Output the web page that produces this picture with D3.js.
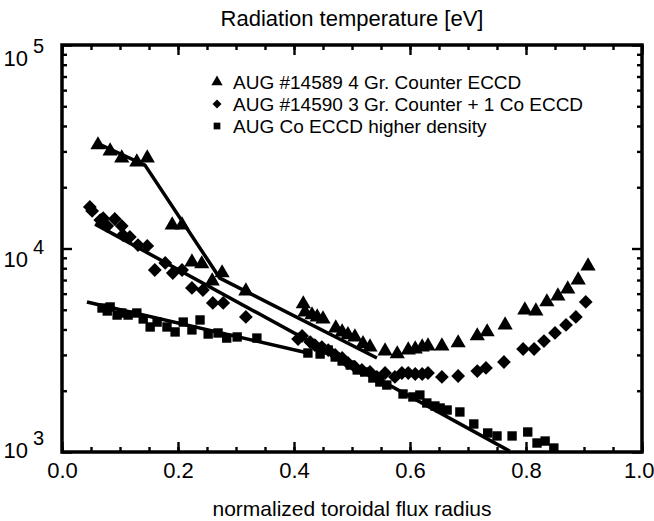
<!DOCTYPE html>
<html>
<head>
<meta charset="utf-8">
<script src="https://cdn.jsdelivr.net/npm/d3@7"></script>
<style>
  body { margin: 0; background: #fff; }
  svg { font-family: "Liberation Sans", Arial, sans-serif; }
</style>
</head>
<body>
<svg id="chart" width="654" height="521"></svg>
<script>
// series: [x, T]
const triangles = [
  [0.062, 31900], [0.083, 29800], [0.103, 27500], [0.129, 26300], [0.147, 27500],
  [0.190, 12900], [0.207, 12900], [0.224, 8480], [0.241, 8300], [0.259, 6840],
  [0.276, 7500], [0.317, 6110], [0.416, 5280], [0.419, 4820], [0.431, 4660],
  [0.440, 4550], [0.450, 4450], [0.472, 4020], [0.483, 3840], [0.493, 3720],
  [0.505, 3630], [0.519, 3360], [0.531, 3240], [0.557, 3100], [0.578, 2998],
  [0.597, 3135], [0.609, 3170], [0.621, 3240], [0.631, 3280], [0.655, 3280],
  [0.683, 3395], [0.716, 3675], [0.733, 3845], [0.764, 4160], [0.798, 4930],
  [0.817, 4875], [0.836, 5400], [0.855, 5775], [0.872, 6250], [0.890, 6920],
  [0.907, 8110]
];
const diamonds = [
  [0.048, 16000], [0.052, 15300], [0.066, 13800], [0.071, 14100], [0.078, 12900],
  [0.091, 13960], [0.103, 12900], [0.105, 11650], [0.117, 11400], [0.131, 10400],
  [0.147, 10300], [0.160, 7840], [0.178, 8490], [0.191, 7580], [0.207, 7840],
  [0.224, 6400], [0.243, 6250], [0.260, 5400], [0.278, 5400], [0.317, 4610],
  [0.407, 3590], [0.414, 3720], [0.428, 3470], [0.436, 3355], [0.448, 3280],
  [0.459, 3170], [0.471, 2998], [0.483, 2897], [0.493, 2737], [0.505, 2617],
  [0.517, 2530], [0.531, 2472], [0.543, 2337], [0.557, 2445], [0.574, 2337],
  [0.586, 2445], [0.597, 2445], [0.609, 2417], [0.621, 2417], [0.631, 2445],
  [0.655, 2337], [0.683, 2363], [0.716, 2500], [0.731, 2588], [0.762, 2769],
  [0.795, 3207], [0.814, 3207], [0.831, 3510], [0.850, 3845], [0.869, 4210],
  [0.886, 4610], [0.903, 5460]
];
const squares = [
  [0.069, 5100], [0.078, 4930], [0.083, 5160], [0.095, 4710], [0.103, 4820],
  [0.114, 4710], [0.129, 4820], [0.140, 4505], [0.152, 4115], [0.164, 4350],
  [0.181, 4115], [0.195, 3890], [0.209, 4350], [0.224, 3980], [0.238, 4455],
  [0.252, 3800], [0.269, 3845], [0.284, 3630], [0.302, 3675], [0.336, 3630],
  [0.424, 3065], [0.445, 3030], [0.459, 3170], [0.471, 2930], [0.483, 2800],
  [0.497, 2677], [0.509, 2530], [0.522, 2472], [0.536, 2310], [0.548, 2208],
  [0.560, 2134], [0.588, 1928], [0.605, 1864], [0.617, 1905], [0.629, 1741],
  [0.643, 1683], [0.652, 1645], [0.664, 1608], [0.686, 1573], [0.710, 1373],
  [0.734, 1240], [0.750, 1199], [0.776, 1199], [0.803, 1254], [0.819, 1107],
  [0.833, 1132], [0.848, 1046]
];

// fitted lines
const triangleFit = [[0.060, 33000], [0.143, 25700], [0.272, 7160], [0.543, 2897]];
const diamondFit = [[0.057, 13180], [0.772, 1010]];
const squareFit = [[0.043, 5458], [0.424, 3066]];

const legendLabels = [
  'AUG #14589 4 Gr. Counter ECCD',
  'AUG #14590 3 Gr. Counter + 1 Co ECCD',
  'AUG Co ECCD higher density'
];
const xMajor = [0, 0.2, 0.4, 0.6, 0.8, 1.0];
const xMinor = d3.range(0, 1.0001, 0.05);
const yExps = [3, 4, 5];

const svg = d3.select('#chart');
const margin = {left: 62, right: 12, top: 45, bottom: 69};
const W = 654, H = 521;

const x = d3.scaleLinear().domain([0, 1]).range([margin.left, W - margin.right]);
const y = d3.scaleLog().domain([1000, 100000]).range([H - margin.bottom, margin.top]);

const yMinor = [];
[1000, 10000].forEach(b => { for (let k = 2; k <= 9; k++) yMinor.push(b * k); });

// ticks (inward, on all four sides)
const axes = svg.append('g');
axes.append('g').attr('transform', `translate(0,${y.range()[0]})`)
  .call(d3.axisBottom(x).tickValues(xMinor).tickSize(-5).tickFormat(''));
axes.append('g').attr('transform', `translate(0,${y.range()[0]})`)
  .call(d3.axisBottom(x).tickValues(xMajor).tickSize(-10).tickPadding(10).tickFormat(d3.format('.1f')));
axes.append('g').attr('transform', `translate(0,${y.range()[1]})`)
  .call(d3.axisTop(x).tickValues(xMinor).tickSize(-5).tickFormat(''));
axes.append('g').attr('transform', `translate(0,${y.range()[1]})`)
  .call(d3.axisTop(x).tickValues(xMajor).tickSize(-10).tickFormat(''));
axes.append('g').attr('transform', `translate(${x.range()[0]},0)`)
  .call(d3.axisLeft(y).tickValues(yMinor).tickSize(-5).tickFormat(''));
axes.append('g').attr('transform', `translate(${x.range()[0]},0)`)
  .call(d3.axisLeft(y).tickValues(yExps.map(e => Math.pow(10, e))).tickSize(-10).tickFormat(''));
axes.append('g').attr('transform', `translate(${x.range()[1]},0)`)
  .call(d3.axisRight(y).tickValues(yMinor).tickSize(-5).tickFormat(''));
axes.append('g').attr('transform', `translate(${x.range()[1]},0)`)
  .call(d3.axisRight(y).tickValues(yExps.map(e => Math.pow(10, e))).tickSize(-10).tickFormat(''));

axes.selectAll('.domain').remove();
axes.selectAll('.tick line').attr('stroke', '#000').attr('stroke-width', 2.4);
axes.selectAll('.tick text').attr('fill', '#000').style('font-size', '22px')
  .style('font-family', '"Liberation Sans", Arial, sans-serif');
// last label sits on the window edge like the original
axes.selectAll('.tick text').filter(d => d === 1.0).attr('text-anchor', 'end').attr('dx', 12);

// frame
svg.append('rect')
  .attr('x', x.range()[0]).attr('y', y.range()[1])
  .attr('width', x.range()[1] - x.range()[0])
  .attr('height', y.range()[0] - y.range()[1])
  .attr('fill', 'none').attr('stroke', '#000').attr('stroke-width', 3.5);

// y labels 10^n (bottom one nudged up, top ones hang below their tick)
const yLabelShift = {3: 6, 4: 18, 5: 21};
const yl = svg.append('g').selectAll('text').data(yExps).join('text')
  .attr('x', x.range()[0] - 18)
  .attr('y', d => y(Math.pow(10, d)) + yLabelShift[d])
  .attr('text-anchor', 'end')
  .style('font-size', '22px');
yl.append('tspan').text('10');
yl.append('tspan').attr('dx', 5).attr('dy', -13).style('font-size', '20px').text(d => d);

// fit lines
const line = d3.line().x(d => x(d[0])).y(d => y(d[1]));
svg.append('g').selectAll('path').data([triangleFit, diamondFit, squareFit]).join('path')
  .attr('d', line).attr('fill', 'none').attr('stroke', '#000').attr('stroke-width', 3.5);

// markers
const sym = {
  tri: d3.symbol().type(d3.symbolTriangle).size(100),
  dia: d3.symbol().type(d3.symbolSquare).size(95),
  sq: d3.symbol().type(d3.symbolSquare).size(88)
};
const marks = svg.append('g');
marks.selectAll('.tri').data(triangles).join('path').attr('class', 'tri')
  .attr('d', sym.tri).attr('transform', d => `translate(${x(d[0])},${y(d[1]) - 1})`);
marks.selectAll('.dia').data(diamonds).join('path').attr('class', 'dia')
  .attr('d', sym.dia).attr('transform', d => `translate(${x(d[0])},${y(d[1])}) rotate(45)`);
marks.selectAll('.sq').data(squares).join('path').attr('class', 'sq')
  .attr('d', sym.sq).attr('transform', d => `translate(${x(d[0])},${y(d[1])})`);

// legend
const lg = svg.append('g').attr('transform', 'translate(217,82)');
const lsym = [
  d3.symbol().type(d3.symbolTriangle).size(55),
  d3.symbol().type(d3.symbolSquare).size(40),
  d3.symbol().type(d3.symbolSquare).size(45)
];
const rows = lg.selectAll('g').data(legendLabels).join('g')
  .attr('transform', (d, i) => `translate(0,${i * 22})`);
rows.append('path').attr('d', (d, i) => lsym[i]())
  .attr('transform', (d, i) => i === 1 ? 'rotate(45)' : null);
rows.append('text').attr('x', 16).attr('y', 7).style('font-size', '19px').text(d => d);

// titles
svg.append('text').attr('x', (x.range()[0] + x.range()[1]) / 2).attr('y', 26)
  .attr('text-anchor', 'middle').style('font-size', '22px').text('Radiation temperature [eV]');
svg.append('text').attr('x', (x.range()[0] + x.range()[1]) / 2).attr('y', 516)
  .attr('text-anchor', 'middle').style('font-size', '21px').text('normalized toroidal flux radius');
</script>
</body>
</html>
